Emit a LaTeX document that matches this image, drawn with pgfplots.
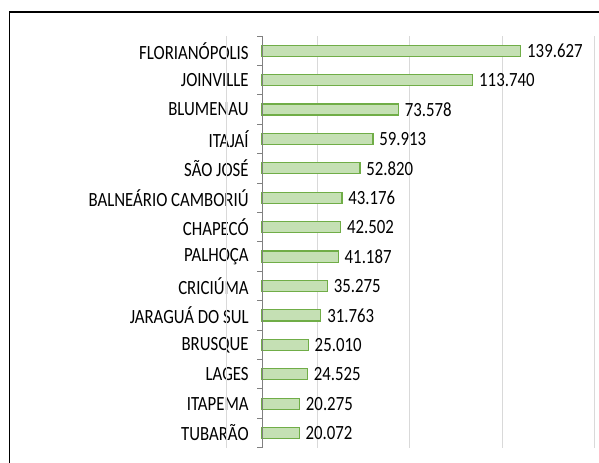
\documentclass[border=0pt]{standalone}
\usepackage{pgfplots}
\pgfplotsset{compat=1.18}
\usepackage{pgfplotstable}
\usepackage{fontspec}
\setmainfont{Carlito}
\usepackage{graphicx}
\definecolor{barfill}{HTML}{C5E0B4}
\definecolor{barline}{HTML}{70AD47}
\definecolor{gridc}{HTML}{D9D9D9}
\definecolor{axc}{HTML}{808080}
\newcommand{\st}[1]{\scalebox{1}[1.2]{#1}}
\pgfplotstableread{
idx val
0 139627
1 113740
2 73578
3 59913
4 52820
5 43176
6 42502
7 41187
8 35275
9 31763
10 25010
11 24525
12 20275
13 20072
}\data
\begin{document}
\begin{tikzpicture}
\useasboundingbox (0,0) rectangle (449.25pt,-346.5pt);
\draw[black, line width=1.1pt] (7.1pt,-360pt) -- (7.1pt,-9pt) -- (460pt,-9pt);
\begin{axis}[
  at={(196.5pt,-27pt)}, anchor=north west,
  scale only axis, width=249.7pt, height=308.8pt,
  xmin=0, xmax=179600, ymin=-0.5, ymax=13.5,
  y dir=reverse,
  axis line style={draw=none},
  xtick={30200,79800,129500,179600},
  xticklabels={},
  scaled x ticks=false,
  xtick style={draw=none},
  xmajorgrids,
  major grid style={draw=gridc, line width=0.75pt},
  ytick={0,...,13},
  ytick pos=left,
  yticklabels={\st{FLORIANÓPOLIS},\st{JOINVILLE},\st{BLUMENAU},\st{ITAJAÍ},\st{SÃO JOSÉ},\st{BALNEÁRIO CAMBORIÚ},\st{CHAPECÓ},\st{PALHOÇA},\st{CRICIÚMA},\st{JARAGUÁ DO SUL},\st{BRUSQUE},\st{LAGES},\st{ITAPEMA},\st{TUBARÃO}},
  major tick length=0pt,
  minor ytick={-0.5,0.5,...,13.5},
  minor tick length=3.75pt,
  tick align=outside,
  minor tick style={draw=axc, line width=0.75pt},
  yticklabel style={font=\fontsize{12.6pt}{15pt}\selectfont, text=black, xshift=-6.5pt},
  clip=false,
  xbar,
  bar width=8.3pt,
  nodes near coords={\st{\pgfmathprintnumber[fixed,precision=0,1000 sep={.},assume math mode=true]{\pgfplotspointmeta}}},
  every node near coord/.append style={font=\fontsize{12.6pt}{15pt}\selectfont, text=black, xshift=1pt},
]
\draw[gridc, line width=0.75pt] (axis cs:-19300,-0.5) -- (axis cs:-19300,13.5);
\addplot[draw=barline, fill=barfill, line width=0.9pt] table[x=val,y=idx]{\data};
\draw[axc, line width=0.75pt] (axis cs:0,-0.5) -- (axis cs:0,13.5);
\end{axis}
\end{tikzpicture}
\end{document}
